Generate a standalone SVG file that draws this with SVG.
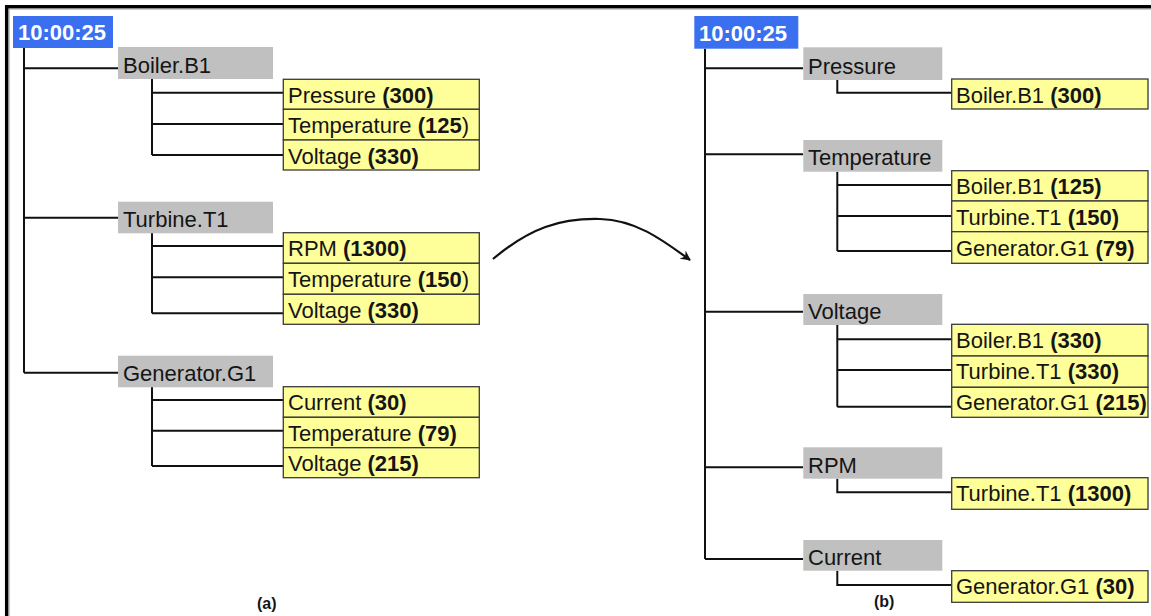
<svg xmlns="http://www.w3.org/2000/svg" width="1151" height="616" viewBox="0 0 1151 616">
<style>
text{font-family:"Liberation Sans",Arial,sans-serif;font-size:22px;fill:#151515}
.b{font-weight:bold}
.t{fill:#fff;font-weight:bold;font-size:22px}
.blue{fill:#3a6ff0}
.gray{fill:#c0c0c0}
.yel{fill:#ffff99;stroke:#3a3a3a;stroke-width:1.3}
.ln{stroke:#111;stroke-width:2;fill:none}
.cap{font-weight:bold;font-size:16px}
</style>
<defs>
<marker id="ah" viewBox="0 0 10 10" refX="9" refY="5" markerWidth="10" markerHeight="10" markerUnits="userSpaceOnUse" orient="auto">
<path d="M0,0 L10,5 L0,10 L3,5 Z" fill="#111"/>
</marker>
</defs>
<rect width="1151" height="616" fill="#fff"/>
<g id="frame">
<line x1="5" y1="6.7" x2="1151" y2="6.7" stroke="#000" stroke-width="3.5"/>
<line x1="6.7" y1="5" x2="6.7" y2="616" stroke="#000" stroke-width="3.5"/>
<line x1="9" y1="9" x2="1151" y2="9" stroke="#999" stroke-width="1"/>
<line x1="9" y1="9" x2="9" y2="616" stroke="#999" stroke-width="1"/>
</g>
<g id="connectors">
<path class="ln" d="M24,48 V372.7 M24,68.3 H118 M24,217.7 H118 M24,372.7 H118"/>
<path class="ln" d="M152,79 V155 M152,92.7 H283 M152,124 H283 M152,155 H283"/>
<path class="ln" d="M152,233 V313.3 M152,246 H283 M152,277.3 H283 M152,313.3 H283"/>
<path class="ln" d="M152,387 V466 M152,400 H283 M152,430.7 H283 M152,466 H283"/>
<path class="ln" d="M705,48.7 V559 M705,68.3 H803 M705,154.3 H803 M705,311.7 H803 M705,467.3 H803 M705,559 H803"/>
<path class="ln" d="M837.3,80 V92.7 H951"/>
<path class="ln" d="M837.3,171.7 V251 M837.3,185 H951 M837.3,216 H951 M837.3,251 H951"/>
<path class="ln" d="M837.3,325 V406.7 M837.3,339.3 H951 M837.3,370 H951 M837.3,406.7 H951"/>
<path class="ln" d="M837.3,478.7 V492.3 H951"/>
<path class="ln" d="M837.3,570.7 V585 H951"/>
<path d="M493,259 C530,228 560,218 600,219 C635,220 660,238 690,260" stroke="#111" stroke-width="2.2" fill="none" marker-end="url(#ah)"/>
</g>
<g id="time-a"><rect class="blue" x="13" y="16" width="100" height="32"/><text class="t" x="18" y="40">10:00:25</text></g>
<g id="boiler-a"><rect class="gray" x="118" y="47" width="155" height="32"/><text x="123" y="73">Boiler.B1</text></g>
<g id="boiler-a-vals">
<rect class="yel" x="283.3" y="79.3" width="196" height="30"/><text x="288" y="102.5">Pressure <tspan class="b">(300)</tspan></text>
<rect class="yel" x="283.3" y="109.3" width="196" height="30.7"/><text x="288" y="133">Temperature <tspan class="b">(125</tspan>)</text>
<rect class="yel" x="283.3" y="140" width="196" height="30"/><text x="288" y="163.5">Voltage <tspan class="b">(330)</tspan></text>
</g>
<g id="turbine-a"><rect class="gray" x="118" y="201.7" width="155" height="31.6"/><text x="123" y="227">Turbine.T1</text></g>
<g id="turbine-a-vals">
<rect class="yel" x="283.3" y="232.7" width="196" height="30.6"/><text x="288" y="256">RPM <tspan class="b">(1300)</tspan></text>
<rect class="yel" x="283.3" y="263.3" width="196" height="31"/><text x="288" y="287">Temperature <tspan class="b">(150</tspan>)</text>
<rect class="yel" x="283.3" y="294.3" width="196" height="30"/><text x="288" y="317.5">Voltage <tspan class="b">(330)</tspan></text>
</g>
<g id="generator-a"><rect class="gray" x="118" y="355.7" width="155" height="31.6"/><text x="123" y="381">Generator.G1</text></g>
<g id="generator-a-vals">
<rect class="yel" x="283.3" y="386.7" width="196" height="30.6"/><text x="288" y="410">Current <tspan class="b">(30)</tspan></text>
<rect class="yel" x="283.3" y="417.3" width="196" height="30.4"/><text x="288" y="441">Temperature <tspan class="b">(79)</tspan></text>
<rect class="yel" x="283.3" y="447.7" width="196" height="30"/><text x="288" y="471">Voltage <tspan class="b">(215)</tspan></text>
</g>
<g id="label-a"><text class="cap" x="257" y="609">(a)</text></g>
<g id="time-b"><rect class="blue" x="694.3" y="16" width="104" height="32.7"/><text class="t" x="699" y="40.5">10:00:25</text></g>
<g id="pressure-b"><rect class="gray" x="803.3" y="47.3" width="139" height="32.7"/><text x="808" y="73.5">Pressure</text></g>
<g id="pressure-b-vals">
<rect class="yel" x="951.7" y="79" width="196.3" height="30"/><text x="956" y="102.5">Boiler.B1 <tspan class="b">(300)</tspan></text>
</g>
<g id="temperature-b"><rect class="gray" x="803.3" y="140" width="139" height="31.7"/><text x="808" y="165">Temperature</text></g>
<g id="temperature-b-vals">
<rect class="yel" x="951.7" y="170.7" width="196.3" height="30.3"/><text x="956" y="194">Boiler.B1 <tspan class="b">(125)</tspan></text>
<rect class="yel" x="951.7" y="201" width="196.3" height="30.7"/><text x="956" y="224.5">Turbine.T1 <tspan class="b">(150)</tspan></text>
<rect class="yel" x="951.7" y="231.7" width="196.3" height="31.6"/><text x="956" y="255.5">Generator.G1 <tspan class="b">(79)</tspan></text>
</g>
<g id="voltage-b"><rect class="gray" x="803.3" y="294" width="139" height="31"/><text x="808" y="319">Voltage</text></g>
<g id="voltage-b-vals">
<rect class="yel" x="951.7" y="324.3" width="196.3" height="31.7"/><text x="956" y="348">Boiler.B1 <tspan class="b">(330)</tspan></text>
<rect class="yel" x="951.7" y="356" width="196.3" height="31.3"/><text x="956" y="379">Turbine.T1 <tspan class="b">(330)</tspan></text>
<rect class="yel" x="951.7" y="387.3" width="196.3" height="30"/><text x="956" y="410">Generator.G1 <tspan class="b">(215)</tspan></text>
</g>
<g id="rpm-b"><rect class="gray" x="803.3" y="447.3" width="139" height="31.4"/><text x="808" y="472.5">RPM</text></g>
<g id="rpm-b-vals">
<rect class="yel" x="951.7" y="477.7" width="196.3" height="31.6"/><text x="956" y="501">Turbine.T1 <tspan class="b">(1300)</tspan></text>
</g>
<g id="current-b"><rect class="gray" x="803.3" y="540" width="139" height="30.7"/><text x="808" y="565">Current</text></g>
<g id="current-b-vals">
<rect class="yel" x="951.7" y="570.7" width="196.3" height="31.6"/><text x="956" y="594">Generator.G1 <tspan class="b">(30)</tspan></text>
</g>
<g id="label-b"><text class="cap" x="874" y="607">(b)</text></g>
</svg>
